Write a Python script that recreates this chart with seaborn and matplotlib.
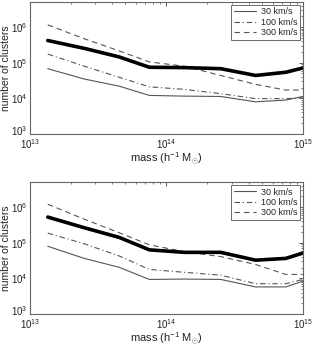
import numpy as np
import pandas as pd
import matplotlib
matplotlib.use("Agg")
import matplotlib.pyplot as plt
import matplotlib.transforms as mtransforms
import seaborn as sns
from matplotlib.ticker import LogLocator, NullFormatter

# Data
mass = [1.35e13, 2.5e13, 4.5e13, 7.5e13, 1.35e14, 2.5e14, 4.5e14, 7.5e14, 1.0e15]
series_labels = ["30 km/s", "100 km/s", "300 km/s"]

top_30 = [10**4.83, 10**4.54, 10**4.34, 10**4.08, 10**4.06, 10**4.05, 10**3.90, 10**3.95, 10**4.05]
top_100 = [10**5.24, 10**4.90, 10**4.59, 10**4.32, 10**4.25, 10**4.13, 10**3.99, 10**3.99, 10**4.01]
top_300 = [10**6.06, 10**5.67, 10**5.33, 10**5.02, 10**4.90, 10**4.64, 10**4.39, 10**4.23, 10**4.23]
top_thick = [10**5.62, 10**5.40, 10**5.16, 10**4.87, 10**4.86, 10**4.83, 10**4.64, 10**4.73, 10**4.85]

bot_30 = [10**4.90, 10**4.56, 10**4.31, 10**3.97, 10**3.98, 10**3.97, 10**3.76, 10**3.76, 10**3.92]
bot_100 = [10**5.27, 10**4.97, 10**4.63, 10**4.25, 10**4.17, 10**4.09, 10**3.85, 10**3.85, 10**3.97]
bot_300 = [10**6.08, 10**5.66, 10**5.28, 10**4.94, 10**4.75, 10**4.61, 10**4.39, 10**4.11, 10**4.11]
bot_thick = [10**5.72, 10**5.42, 10**5.15, 10**4.80, 10**4.73, 10**4.73, 10**4.51, 10**4.56, 10**4.71]

x_ticks = [1e13, 1e14, 1e15]
x_ticklabels = ["$10^{13}$", "$10^{14}$", "$10^{15}$"]
y_ticks = [1e3, 1e4, 1e5, 1e6]
y_ticklabels = ["$10^{3}$", "$10^{4}$", "$10^{5}$", "$10^{6}$"]

sns.set_style("white")
plt.rcParams['font.family'] = ['Liberation Sans', 'DejaVu Sans']
plt.rcParams['mathtext.fontset'] = 'custom'
plt.rcParams['mathtext.rm'] = 'Liberation Sans'
plt.rcParams['mathtext.it'] = 'Liberation Sans:italic'

fig = plt.figure(figsize=(3.14, 3.46), dpi=100)
ax1 = fig.add_axes([0.0955, 0.613, 0.869, 0.381])
ax2 = fig.add_axes([0.0955, 0.0925, 0.869, 0.381])

styles = {
    "30 km/s": dict(color="#555555", lw=0.8, ls="-"),
    "100 km/s": dict(color="#555555", lw=0.8, ls=(0, (5, 2.5, 1, 2.5))),
    "300 km/s": dict(color="#555555", lw=0.8, ls=(0, (5, 3.5))),
}

def panel(ax, s30, s100, s300, thick):
    handles = []
    for lab, vals in zip(series_labels, [s30, s100, s300]):
        df = pd.DataFrame({"mass": mass, "n": vals})
        sns.lineplot(data=df, x="mass", y="n", ax=ax, **styles[lab])
        handles.append(ax.lines[-1])
    dft = pd.DataFrame({"mass": mass, "n": thick})
    sns.lineplot(data=dft, x="mass", y="n", ax=ax, color="black", lw=2.6,
                 solid_joinstyle="miter")
    ax.set_xscale("log")
    ax.set_yscale("log")
    ax.set_xlim(1e13, 1e15)
    ax.set_ylim(1e3, 5e6)
    ax.set_xticks(x_ticks)
    ax.set_xticklabels(x_ticklabels)
    ax.set_yticks(y_ticks)
    ax.set_yticklabels(y_ticklabels)
    ax.xaxis.set_minor_locator(LogLocator(base=10, subs=np.arange(2, 10)))
    ax.yaxis.set_minor_locator(LogLocator(base=10, subs=np.arange(2, 10)))
    ax.xaxis.set_minor_formatter(NullFormatter())
    ax.yaxis.set_minor_formatter(NullFormatter())
    ax.tick_params(which="both", direction="in", top=True, right=True,
                   labelsize=7, colors="#444444", labelcolor="#222222", pad=1.5)
    ax.tick_params(axis="x", which="major", pad=2.5)
    ax.tick_params(which="major", length=3, width=0.6)
    ax.tick_params(which="minor", length=1.5, width=0.5)
    # nudge the lowest y label up slightly, as in the reference
    lbl = ax.get_yticklabels()[0]
    lbl.set_transform(lbl.get_transform() +
                      mtransforms.ScaledTranslation(0, 2.5 / 72, fig.dpi_scale_trans))
    for sp in ax.spines.values():
        sp.set_color("#666666")
        sp.set_linewidth(0.8)
        sp.set_visible(True)
    ax.set_xlabel("mass (h$^{-1}$ M$_{\\odot}$)", fontsize=8, labelpad=-0.5, color="#222222")
    ax.set_ylabel("number of clusters", fontsize=7.5, labelpad=0, color="#222222")
    leg = ax.legend(handles, series_labels, loc="upper right", fontsize=6.5,
                    frameon=True, fancybox=False, borderpad=0.3, labelspacing=0.15,
                    handlelength=2.4, handletextpad=0.6, borderaxespad=0.3)
    leg.get_frame().set_edgecolor("#444444")
    leg.get_frame().set_linewidth(0.7)

panel(ax1, top_30, top_100, top_300, top_thick)
panel(ax2, bot_30, bot_100, bot_300, bot_thick)

fig.savefig("out.png", dpi=100)
